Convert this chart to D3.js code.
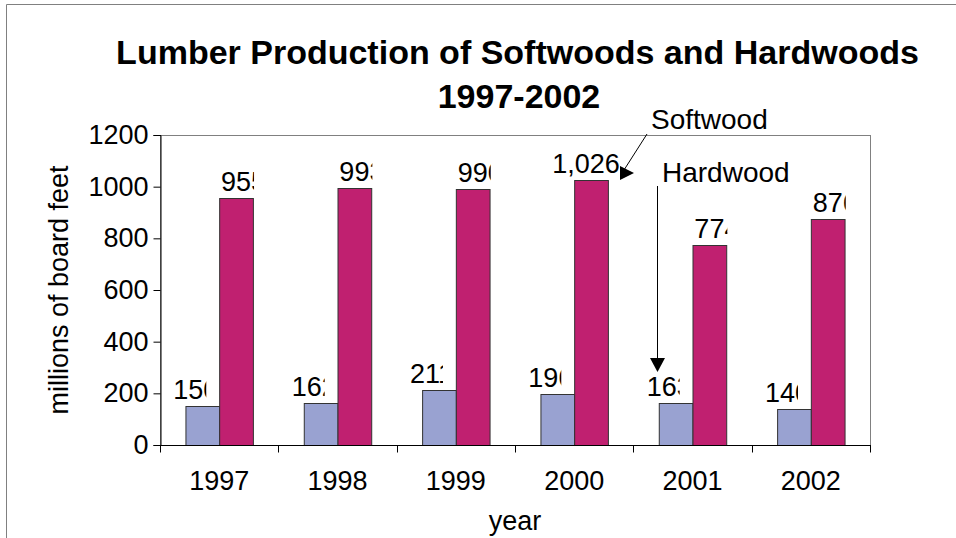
<!DOCTYPE html>
<html>
<head>
<meta charset="utf-8">
<script src="https://cdn.jsdelivr.net/npm/d3@7"></script>
<style>
  html, body { margin: 0; padding: 0; background: #fff; }
  svg { display: block; font-family: "Liberation Sans", Arial, sans-serif; }
</style>
</head>
<body>
<svg id="chart" width="956" height="538"></svg>
<script>
// ---- data ----
const years = ["1997", "1998", "1999", "2000", "2001", "2002"];
const hardwood = [150, 162, 211, 196, 163, 140];
const softwood = [955, 993, 990, 1026, 774, 876];
const yTicks = [0, 200, 400, 600, 800, 1000, 1200];
const seriesNames = ["Hardwood", "Softwood"];
const titleLines = ["Lumber Production of Softwoods and Hardwoods", "1997-2002"];
const xTitle = "year";
const yTitle = "millions of board feet";

// ---- layout ----
const svg = d3.select("#chart");
const W = 956, H = 538;
const plot = { left: 160, right: 870, top: 135, bottom: 445 };
const colors = { Hardwood: "#99A2D1", Softwood: "#C02070" };

// outer frame
svg.append("path")
  .attr("d", `M6.5,${H} L6.5,4.5 L${W},4.5`)
  .attr("fill", "none").attr("stroke", "#808080").attr("stroke-width", 1);

const x0 = d3.scaleBand().domain(years).range([plot.left, plot.right]).paddingInner(0).paddingOuter(0);
const groupPad = 0.215;
const x1 = d3.scaleBand().domain(seriesNames)
  .range([x0.bandwidth() * groupPad, x0.bandwidth() * (1 - groupPad)]);
const y = d3.scaleLinear().domain([0, 1200]).range([plot.bottom, plot.top]);

// plot area border (gray)
svg.append("rect")
  .attr("x", plot.left + 0.5).attr("y", plot.top + 0.5)
  .attr("width", plot.right - plot.left).attr("height", plot.bottom - plot.top)
  .attr("fill", "none").attr("stroke", "#808080");

// data rows
const rows = years.map((yr, i) => ({ year: yr, Hardwood: hardwood[i], Softwood: softwood[i] }));
const fmt = d3.format(",");

const groups = svg.append("g").selectAll("g").data(rows).join("g")
  .attr("transform", d => `translate(${x0(d.year)},0)`);

groups.selectAll("rect").data(d => seriesNames.map(k => ({ key: k, value: d[k], year: d.year })))
  .join("rect")
  .attr("x", d => x1(d.key) + 0.5)
  .attr("y", d => Math.round(y(d.value)) + 0.5)
  .attr("width", x1.bandwidth())
  .attr("height", d => y(0) - Math.round(y(d.value)))
  .attr("fill", d => colors[d.key])
  .attr("stroke", "#333").attr("stroke-width", 1);

// data labels (clipped as in the original)
const defs = svg.append("defs");
const labelLayer = svg.append("g");
const labelStart = { Hardwood: -29, Softwood: -15 };
const clipW = 33;
rows.forEach((r, i) => {
  seriesNames.forEach(k => {
    const v = r[k];
    const cx = x0(r.year) + x1(k) + x1.bandwidth() / 2;
    const txt = fmt(v);
    const by = y(v) - 7;
    if (txt.length > 3) {
      labelLayer.append("text")
        .attr("x", cx - 5).attr("y", by)
        .attr("text-anchor", "middle")
        .attr("font-size", 27).attr("fill", "#000")
        .text(txt);
    } else {
      const id = `clip-${k}-${i}`;
      const sx = cx + labelStart[k];
      defs.append("clipPath").attr("id", id)
        .append("rect").attr("x", sx).attr("y", by - 30).attr("width", clipW).attr("height", 40);
      labelLayer.append("text")
        .attr("x", sx).attr("y", by)
        .attr("clip-path", `url(#${id})`)
        .attr("font-size", 27).attr("fill", "#000")
        .text(txt);
    }
  });
});

// axes
const yAxis = d3.axisLeft(y).tickValues(yTicks).tickSize(7).tickPadding(5).tickFormat(d3.format("d"));
const yg = svg.append("g").attr("transform", `translate(${plot.left + 0.5},0)`).call(yAxis);
yg.select(".domain").attr("stroke", "#000");
yg.selectAll(".tick line").attr("stroke", "#000");
yg.selectAll(".tick text").attr("font-size", 27).attr("font-family", "Liberation Sans, Arial, sans-serif").attr("fill", "#000");

const xg = svg.append("g").attr("transform", `translate(0,${plot.bottom + 0.5})`);
xg.append("line").attr("x1", plot.left).attr("x2", plot.right + 1).attr("stroke", "#000");
const boundaries = years.map(yr => x0(yr)).concat([plot.right]);
xg.selectAll("line.tk").data(boundaries).join("line").attr("class", "tk")
  .attr("x1", d => Math.round(d) + 0.5).attr("x2", d => Math.round(d) + 0.5)
  .attr("y1", 0).attr("y2", 7).attr("stroke", "#000");
xg.selectAll("text").data(years).join("text")
  .attr("x", d => x0(d) + x0.bandwidth() / 2)
  .attr("y", 44)
  .attr("text-anchor", "middle").attr("font-size", 27).attr("fill", "#000")
  .text(d => d);

// titles
svg.append("text").attr("x", 517.5).attr("y", 64).attr("text-anchor", "middle")
  .attr("font-size", 34).attr("font-weight", "bold").text(titleLines[0]);
svg.append("text").attr("x", 519).attr("y", 108).attr("text-anchor", "middle")
  .attr("font-size", 34).attr("font-weight", "bold").text(titleLines[1]);

svg.append("text").attr("x", (plot.left + plot.right) / 2).attr("y", 530)
  .attr("text-anchor", "middle").attr("font-size", 27).text(xTitle);
svg.append("text").attr("transform", `translate(68,290) rotate(-90)`)
  .attr("text-anchor", "middle").attr("font-size", 27).text(yTitle);

// annotations
const ann = svg.append("g");
ann.append("text").attr("x", 651).attr("y", 129).attr("font-size", 28).text("Softwood");
ann.append("line").attr("x1", 647).attr("y1", 134).attr("x2", 624).attr("y2", 170)
  .attr("stroke", "#000").attr("stroke-width", 1);
ann.append("path").attr("d", "M620,166 L634,173 L620,180 Z").attr("fill", "#000");

ann.append("text").attr("x", 662).attr("y", 182).attr("font-size", 28).text("Hardwood");
ann.append("line").attr("x1", 657.5).attr("y1", 186).attr("x2", 657.5).attr("y2", 362)
  .attr("stroke", "#000").attr("stroke-width", 1);
ann.append("path").attr("d", "M650,358 L665,358 L657.5,372 Z").attr("fill", "#000");
</script>
</body>
</html>
